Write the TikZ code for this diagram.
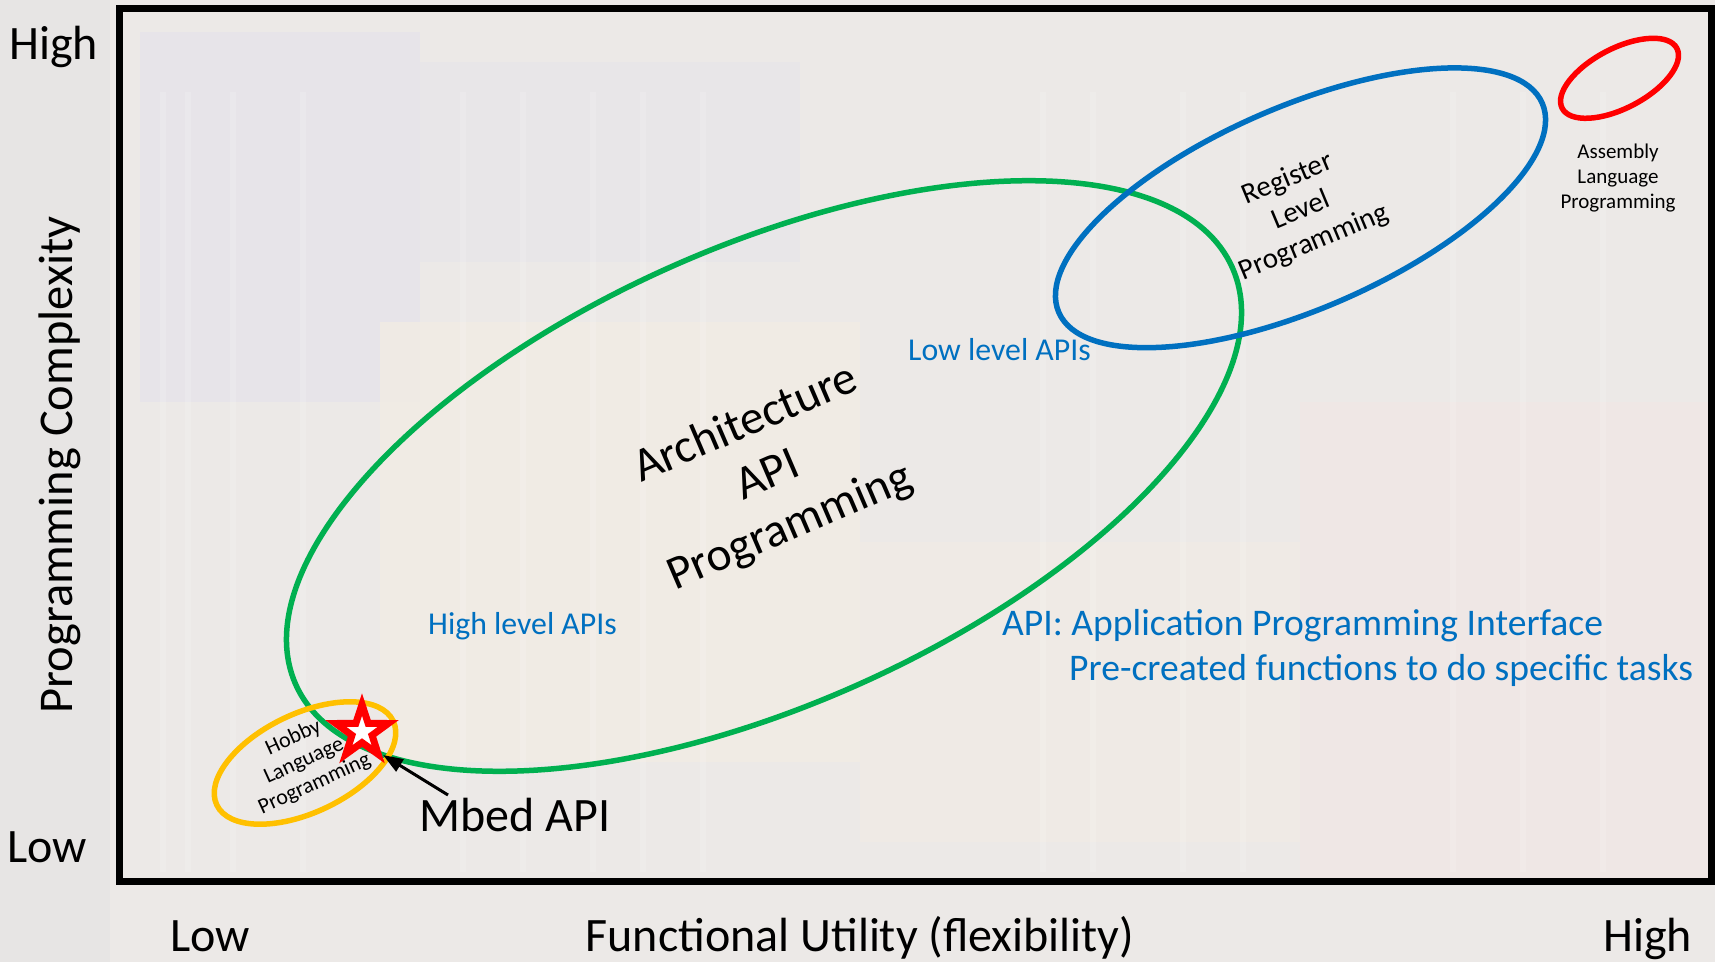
\documentclass[tikz,border=0pt]{standalone}
\usepackage{fontspec}
\setmainfont{Carlito}
\usetikzlibrary{shapes.geometric,arrows.meta}

\definecolor{ringgreen}{HTML}{00B050}
\definecolor{ringblue}{HTML}{0070C0}
\definecolor{ringred}{HTML}{FF0000}
\definecolor{ringgold}{HTML}{FFC000}
\definecolor{apiblue}{HTML}{0070C0}
\definecolor{bgbase}{HTML}{ECE9E7}
\definecolor{bgviolet}{HTML}{E3E1EC}
\definecolor{bgcream}{HTML}{F3EDE3}
\definecolor{bgpink}{HTML}{F1E6E4}
\definecolor{bggrey}{HTML}{E4E3E2}

\begin{document}
\begin{tikzpicture}[x=1pt,y=1pt,
  ring/.style={draw=#1, line width=5.5, ellipse, inner sep=0, fill=none},
  axislabel/.style={font=\fontsize{48}{56}\selectfont, inner sep=0},
  bluelabel/.style={text=apiblue, font=\fontsize{31.8}{38}\selectfont, inner sep=0},
  notelabel/.style={text=apiblue, font=\fontsize{37.6}{44}\selectfont, inner sep=0},
  zonetext/.style={align=center, inner sep=0},
  pointer/.style={line width=3, -{Triangle[length=20,width=14]}},
  patch/.style={fill=#1, draw=none}
]
\useasboundingbox (0,0) rectangle (1715,962);

% faded chip-photo backdrop
\fill[bgbase] (0,0) rectangle (1715,962);
\fill[patch=bgviolet, opacity=0.55] (140,560) rectangle (420,930);
\fill[patch=bgviolet, opacity=0.35] (420,700) rectangle (800,900);
\fill[patch=bgcream, opacity=0.7] (380,200) rectangle (860,640);
\fill[patch=bgcream, opacity=0.45] (860,120) rectangle (1300,420);
\fill[patch=bgpink, opacity=0.6] (1300,80) rectangle (1715,560);
\fill[patch=bggrey, opacity=0.6] (0,0) rectangle (110,962);
\foreach \sx in {160,185,230,300,460,520,590,640,700,1040,1090,1180,1240,1450,1520,1600}
  \fill[white, opacity=0.15] (\sx,90) rectangle ++(6,780);

% plot frame
\draw[line width=6.5] (119.5,80.5) rectangle (1711.5,953.5);

% axis labels
\node[axislabel, anchor=base west] (yhigh) at (9,902) {High};
\node[axislabel, anchor=base west] (ylow) at (7,100) {Low};
\node[axislabel, anchor=base, rotate=90, font=\fontsize{48.5}{56}\selectfont] (ytitle) at (72,497) {Programming Complexity};
\node[axislabel, anchor=base] (xlow) at (210,10.5) {Low};
\node[axislabel, anchor=base] (xtitle) at (860,10.5) {Functional Utility (flexibility)};
\node[axislabel, anchor=base] (xhigh) at (1647.5,10.5) {High};

% programming-style regions
\node[ring=ringgreen, minimum width=1025.2, minimum height=457.8, rotate=24] (archring) at (764,486) {};
\node[ring=ringblue, minimum width=526.8, minimum height=202.4, rotate=23.4] (regring) at (1300.5,754.2) {};
\node[ring=ringred, minimum width=129.4, minimum height=59.8, rotate=27.6] (asmring) at (1619.5,883.7) {};
\node[ring=ringgold, minimum width=195.4, minimum height=98.8, rotate=25.4] (hobbyring) at (305,199) {};

% region captions
\node[zonetext, font=\fontsize{47.5}{56}\selectfont, rotate=23.2] (archtext) at (768,486) {Architecture\\API\\Programming};
\node[zonetext, font=\fontsize{29}{34.3}\selectfont, rotate=22.6] (regtext) at (1301,751) {Register\\Level\\Programming};
\node[zonetext, font=\fontsize{21}{25}\selectfont] (asmtext) at (1618,784) {Assembly\\Language\\Programming};
\node[zonetext, font=\fontsize{22}{25.5}\selectfont, rotate=24.5] (hobbytext) at (304,201) {Hobby\\Language\\Programming};

% API level annotations
\node[bluelabel, anchor=base west] (lowapi) at (908,601.3) {Low level APIs};
\node[bluelabel, anchor=base west] (highapi) at (428,327.7) {High level APIs};
\node[notelabel, anchor=base west] (apidef) at (1002,327) {API: Application Programming Interface};
\node[notelabel, anchor=base west] (apidesc) at (1069,282) {Pre-created functions to do specific tasks};

% Mbed marker
\node[star, star points=5, star point ratio=2.6, draw=ringred, fill=white,
      line width=7, miter limit=10, minimum size=55, inner sep=0] (mbedstar) at (362,230) {};
\node[axislabel, anchor=base west] (mbed) at (419,130.3) {Mbed API};
\coordinate (mbedtail) at (448,167);
\coordinate (mbedtip) at (383,207);
\draw[pointer] (mbedtail) -- (mbedtip);
\end{tikzpicture}
\end{document}
